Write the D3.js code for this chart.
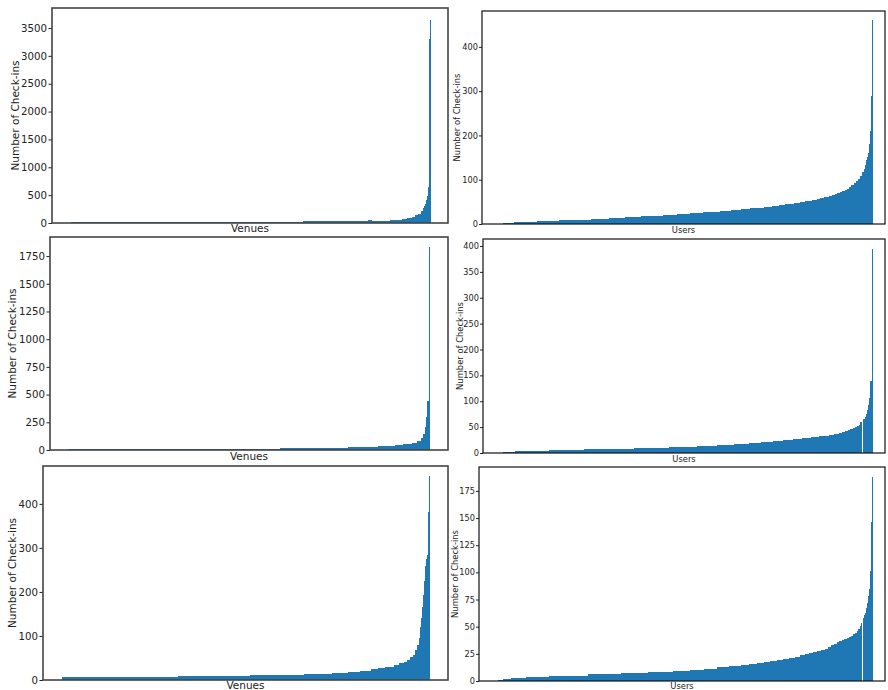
<!DOCTYPE html>
<html>
<head>
<meta charset="utf-8">
<script src="https://cdn.jsdelivr.net/npm/d3@7"></script>
<style>
  body { margin: 0; background: #fff; }
  text { font-family: "DejaVu Sans", sans-serif; fill: #222; }
</style>
</head>
<body>
<div id="chart"></div>
<script>
// check-ins per venue / user, sorted ascending.
// each panel: levels = bar height of a plateau, runs = how many bars sit at that height

var venuesTopLevels = [15, 30, 45, 40, 55, 70, 85, 110, 135, 170, 220, 270, 300, 350, 420, 480, 650, 3300, 3650];
var venuesTopRuns   = [232, 65, 4, 18, 12, 5, 5, 3, 3, 3, 2, 1, 1, 1, 1, 1, 1, 1, 1];

var usersTopLevels = [2.3, 4.5, 6.8, 9, 11.3, 13.6, 15.8, 18, 20, 22.6, 25, 27, 29.4, 31.6, 34, 36, 38.4, 40.7, 43, 45,
  47.5, 49.7, 52, 54, 56.5, 59, 61, 63, 65.5, 68, 70, 72, 74.6, 77, 79, 84, 88, 93, 97, 102, 108, 117,
  125, 133, 145, 152, 160, 181, 210, 290, 460];
var usersTopRuns = [11, 23, 22, 32, 18, 16, 16, 22, 14, 13, 13, 17, 11, 10, 9, 14, 8, 7, 6, 9,
  6, 5, 7, 5, 3, 4, 5, 3, 3, 2, 3, 2, 3, 2, 2, 2, 3, 2, 2, 2, 2, 2,
  1, 1, 1, 1, 1, 1, 1, 1, 1];

var venuesMidLevels = [12, 20, 28, 36, 45, 55, 65, 84, 108, 144, 210, 300, 445, 1830];
var venuesMidRuns   = [211, 68, 30, 17, 8, 9, 5, 4, 2, 2, 1, 1, 2, 1];

var usersMidLevels = [1.5, 3.5, 5.3, 7, 9, 11, 13, 15, 17, 19, 21, 23, 25, 27, 29, 31, 33, 35, 37, 39, 41, 43, 45,
  47, 49, 51, 53, 55, 59.5, 0, 66, 70, 75, 83, 93, 106, 139, 394];
var usersMidRuns = [12, 34, 35, 50, 35, 27, 20, 17, 15, 12, 12, 10, 10, 9, 9, 8, 10, 5, 5, 3, 3, 3, 2,
  3, 2, 2, 2, 1, 2, 1, 2, 1, 1, 1, 1, 1, 2, 1];

var venuesLowLevels = [7.5, 10, 12, 14.5, 16.5, 19, 21, 24, 27, 30, 33, 38, 42, 45, 52, 57, 68, 80,
  95, 121, 140, 165, 193, 225, 260, 275, 285, 382, 464];
var venuesLowRuns = [116, 73, 54, 28, 16, 12, 11, 7, 7, 9, 5, 5, 3, 3, 3, 2, 2, 2,
  1, 1, 1, 1, 1, 1, 1, 1, 1, 1, 1];

var usersLowLevels = [1, 2, 3, 4, 5, 6, 7, 8, 9, 10.5, 11.5, 12.5, 13.5, 14.5, 15.5, 16.5, 17.5, 18.5, 19.5,
  20.5, 21.5, 22.5, 23.5, 24.5, 25.5, 26.5, 27.5, 28.5, 29.5, 31, 33, 34, 35.5, 36.5, 37.5, 38.5,
  39.5, 40.5, 41.5, 43, 44.5, 46, 48, 50.5, 53, 0, 58, 61, 63, 67, 72, 78, 85, 101, 146, 188];
var usersLowRuns = [5, 8, 15, 23, 39, 32, 27, 25, 17, 14, 13, 12, 12, 8, 8, 7, 6, 7, 5,
  6, 6, 5, 5, 4, 4, 4, 4, 4, 3, 3, 3, 3, 2, 3, 2, 3,
  2, 2, 2, 2, 2, 1, 2, 1, 1, 1, 1, 1, 1, 1, 1, 1, 1, 1, 1, 1];

var venuesTopTicks = [0, 500, 1000, 1500, 2000, 2500, 3000, 3500];
var usersTopTicks  = [0, 100, 200, 300, 400];
var venuesMidTicks = [0, 250, 500, 750, 1000, 1250, 1500, 1750];
var usersMidTicks  = [0, 50, 100, 150, 200, 250, 300, 350, 400];
var venuesLowTicks = [0, 100, 200, 300, 400];
var usersLowTicks  = [0, 25, 50, 75, 100, 125, 150, 175];

var yLabel = "Number of Check-ins";

// layout of the six pasted figures
var panels = [
  {levels: venuesTopLevels, runs: venuesTopRuns, ticks: venuesTopTicks, ymax: 3859, xlabel: "Venues",
   box: [52, 8, 448, 223], bars: [71, 431], fs: 10.2, lfs: 10.5, ylx: 18.5, xly: 232, tk: 3.5, pad: 1.5,
   frame: "#444", fw: 1.6},
  {levels: usersTopLevels, runs: usersTopRuns, ticks: usersTopTicks, ymax: 481, xlabel: "Users",
   box: [482, 11, 885, 224], bars: [503, 873], fs: 8.2, lfs: 8.4, ylx: 459.5, xly: 233, tk: 3, pad: 1,
   frame: "#111", fw: 1.2},
  {levels: venuesMidLevels, runs: venuesMidRuns, ticks: venuesMidTicks, ymax: 1922, xlabel: "Venues",
   box: [50, 237, 448, 450], bars: [69, 430], fs: 10.2, lfs: 10.5, ylx: 15.5, xly: 460, tk: 3.5, pad: 1.5,
   frame: "#444", fw: 1.6},
  {levels: usersMidLevels, runs: usersMidRuns, ticks: usersMidTicks, ymax: 413.5, xlabel: "Users",
   box: [483, 239, 885, 453], bars: [503, 873], fs: 8.2, lfs: 8.4, ylx: 462.5, xly: 462, tk: 3, pad: 1,
   frame: "#111", fw: 1.2},
  {levels: venuesLowLevels, runs: venuesLowRuns, ticks: venuesLowTicks, ymax: 486, xlabel: "Venues",
   box: [43, 466, 448, 680], bars: [62, 430], fs: 10.2, lfs: 10.5, ylx: 15.5, xly: 689, tk: 3.5, pad: 1.5,
   frame: "#444", fw: 1.6},
  {levels: usersLowLevels, runs: usersLowRuns, ticks: usersLowTicks, ymax: 197, xlabel: "Users",
   box: [479, 467, 885, 681], bars: [498, 873], fs: 8.2, lfs: 8.4, ylx: 457.5, xly: 689, tk: 3, pad: 1,
   frame: "#111", fw: 1.2}
];

var svg = d3.select("#chart").append("svg")
  .attr("width", 888)
  .attr("height", 690);

function expand(levels, runs) {
  var out = [];
  levels.forEach(function(v, i) {
    for (var k = 0; k < runs[i]; k++) out.push(v);
  });
  return out;
}

panels.forEach(function(p) {
  var values = expand(p.levels, p.runs);
  var left = p.box[0], top = p.box[1], right = p.box[2], bottom = p.box[3];

  var x = d3.scaleBand()
    .domain(d3.range(values.length))
    .range(p.bars)
    .paddingInner(0);

  var y = d3.scaleLinear()
    .domain([0, p.ymax])
    .range([bottom, top]);

  var g = svg.append("g");

  g.append("g")
    .attr("shape-rendering", "crispEdges")
    .selectAll("rect")
    .data(values)
    .enter().append("rect")
    .attr("x", function(d, i) { return x(i); })
    .attr("width", x.bandwidth() + 0.05)
    .attr("y", function(d) { return y(d); })
    .attr("height", function(d) { return bottom - y(d); })
    .attr("fill", "#1f77b4");

  var axis = g.append("g")
    .attr("transform", "translate(" + left + ",0)")
    .call(d3.axisLeft(y).tickValues(p.ticks).tickFormat(d3.format("d")).tickSize(p.tk).tickPadding(p.pad));
  axis.select(".domain").remove();
  axis.selectAll("line").attr("stroke", "#222");
  axis.selectAll("text")
    .style("font-family", "DejaVu Sans, sans-serif")
    .style("font-size", p.fs + "px")
    .attr("fill", "#222");

  g.append("rect")
    .attr("x", left)
    .attr("y", top)
    .attr("width", right - left)
    .attr("height", bottom - top)
    .attr("fill", "none")
    .attr("stroke", p.frame)
    .attr("stroke-width", p.fw);

  // rotated label: baseline sits at ylx
  g.append("text")
    .attr("transform", "translate(" + p.ylx + "," + ((top + bottom) / 2) + ") rotate(-90)")
    .attr("text-anchor", "middle")
    .style("font-size", p.lfs + "px")
    .text(yLabel);

  g.append("text")
    .attr("x", (left + right) / 2)
    .attr("y", p.xly)
    .attr("text-anchor", "middle")
    .style("font-size", p.lfs + "px")
    .text(p.xlabel);
});
</script>
</body>
</html>
